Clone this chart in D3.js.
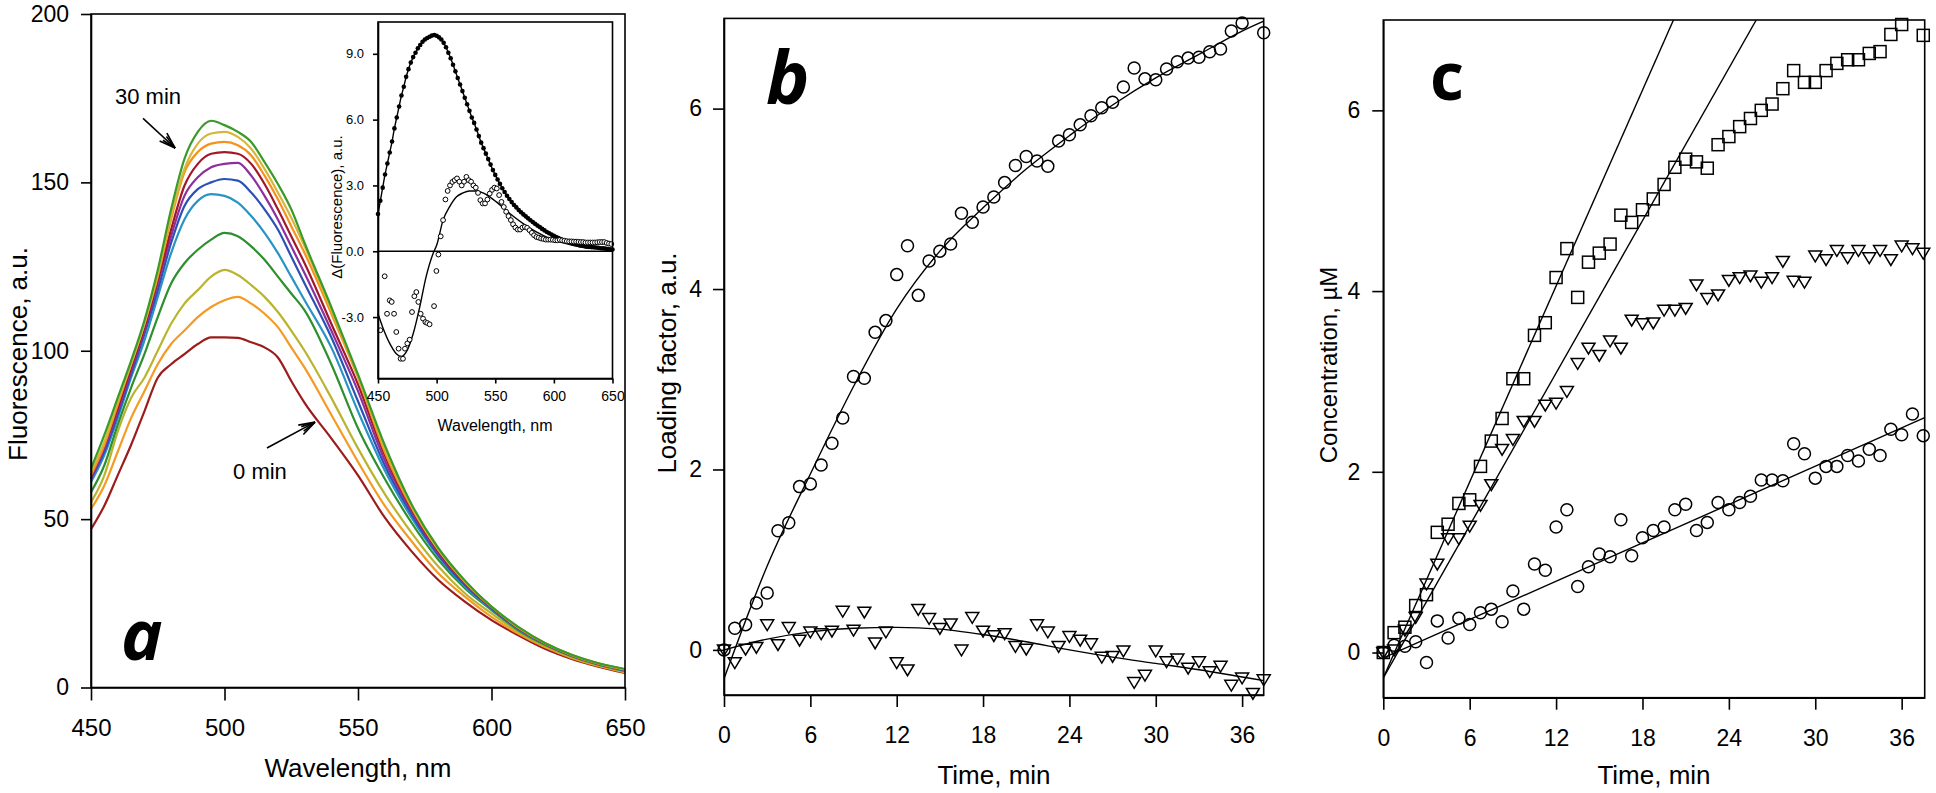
<!DOCTYPE html>
<html>
<head>
<meta charset="utf-8">
<script src="https://cdn.jsdelivr.net/npm/d3@7/dist/d3.min.js"></script>
<style>
html,body{margin:0;padding:0;background:#fff;}
svg{display:block;}
</style>
</head>
<body>
<svg id="chart" width="1936" height="793"></svg>
<script>
// ================= DATA =================
// Panel a: fluorescence spectra (0 .. 30 min)
const wavelengths = [450,455,460,465,470,475,480,485,490,495,500,505,510,515,520,525,530,540,550,560,570,580,590,600,610,620,630,640,650];
const spec0min  = [47,54,63,72,82,92,96,99,102,104,104,103.8,102.5,101,98,91,84.5,74,63,50.5,40.5,32,25.5,20,15.5,11.5,8.5,6.2,4.3];
const spec3min  = [53,60,70,80,88,96,102,106,110,113,115,116,114,111,107,101,95,81,67,54,43.5,34,27,21,16,12,8.8,6.4,4.5];
const spec6min  = [55,63,76,86,92,100,108,114,118,122,124,122.5,119.5,116,111.5,106,100,86,71,57.5,46,36,28,22,16.5,12.3,9,6.6,4.7];
const spec9min  = [58,66,78,89,99,110,120,126,130,133,135,134,131,127,122,117,112,96,77,62,49,38,29.5,23,17,12.7,9.3,6.8,4.9];
const spec12min = [61,69,80,92,103,116,129,139,144.5,146.5,146,144,140,135,129,122,115,101,82,64.5,50.5,39,30,23.3,17.3,12.9,9.4,6.9,5];
const spec15min = [62,70,81,93,105,118,132,143,148,150,151,150.5,147,142,136,128,120,104,85,66,51.5,39.5,30.5,23.5,17.5,13,9.5,7,5.1];
const spec18min = [62,71,82,94,106,120,134,146,151.5,154.5,155.5,155.8,152,146,139,131,123,106,88,67.5,52.5,40,31,23.7,17.6,13,9.5,7,5.2];
const spec21min = [63,72,83,95,107,121,136,149,155.5,158.5,159,158.5,155.5,149.5,142,134,126,108,90,69,53,40.5,31,23.8,17.7,13.1,9.6,7.1,5.3];
const spec24min = [63,72,84,96,108,122,139,153,159,161.5,162,161,158,152,145,137,129,111,92,70,53.5,41,31.3,23.9,17.8,13.1,9.6,7.1,5.3];
const spec27min = [64,73,85,96,108,123,140,154,161.5,164.5,165,163.5,160,154,147,139.5,131,112,92.5,71,54,41,31.5,24,17.9,13.2,9.7,7.2,5.4];
const spec30min = [65,75,86,97,109,124,142,157,165,168.3,167,165,162,156,149.5,142,132,113,93,72,54.5,41.5,31.8,24,18,13.2,9.7,7.2,5.5];
const specColors = ["#9c1c1c","#f59a23","#b8b42e","#2d8f2d","#2894c4","#2a52b5","#8e2f9e","#a0182a","#f5921e","#d7b73a","#3a9a2a"];
const aTicksX = [450,500,550,600,650];
const aTicksY = [0,50,100,150,200];

// Inset: difference spectra
const insetFillNm = [450,452,454,456,458,460,462,464,466,468,470,472,474,476,478,480,482,484,486,488,490,492,494,496,498,500,502,504,506,508,510,512,514,516,518,520,522,524,526,528,530,532,534,536,538,540,542,544,546,548,550,552,554,556,558,560,562,564,566,568,570,572,574,576,578,580,582,584,586,588,590,592,594,596,598,600,602,604,606,608,610,612,614,616,618,620,622,624,626,628,630,632,634,636,638,640,642,644,646,648,650];
const insetFillVal = [1.7,2.3,2.9,3.5,4.0,4.5,5.0,5.6,6.1,6.6,7.1,7.5,7.95,8.3,8.6,8.85,9.05,9.25,9.4,9.55,9.65,9.72,9.78,9.83,9.86,9.82,9.75,9.65,9.5,9.3,9.05,8.8,8.5,8.2,7.9,7.6,7.3,7.0,6.7,6.4,6.1,5.85,5.55,5.25,4.95,4.7,4.45,4.2,3.95,3.7,3.48,3.27,3.07,2.87,2.7,2.53,2.38,2.24,2.11,2.0,1.88,1.78,1.68,1.59,1.5,1.41,1.33,1.25,1.17,1.1,1.02,0.95,0.88,0.82,0.76,0.7,0.65,0.6,0.55,0.5,0.47,0.43,0.4,0.36,0.33,0.3,0.27,0.25,0.23,0.21,0.2,0.19,0.18,0.17,0.16,0.14,0.13,0.12,0.1,0.09,0.08];
const insetOpenNm = [452,455.7,457.7,460,461.7,463.7,465.6,467.6,469.3,471.3,473,475,477,479,481,482.7,484.4,486.4,488.4,490.4,492,494,497.8,499.8,501.5,503.5,505.5,507.5,509.4,511.4,513.4,515.4,517.4,519.4,521.4,523.4,525.4,527.4,529.4,531.4,533.4,535.3,537.3,539.3,541.3,543.3,545.3,547.3,549.3,551.3,553.3,555.3,557.3,559.3,561.3,563.3,565.2,567.2,569.2,571.2,573.2,575.2,577.2,579.2,581.2,583.1,585.1,587.1,589.1,591.1,593.1,595.1,597.1,599.1,601.1,603,605,607,609,611,613,615,617,619,621,623,625,627,629,631,633,635,637,639,641,643,645,647,649];
const insetOpenVal = [-3.6,-1.14,-2.85,-2.24,-2.31,-2.85,-3.68,-4.44,-4.9,-4.9,-4.44,-4.2,-4.03,-2.77,-2.05,-1.86,-2.31,-2.85,-3.07,-3.23,-3.27,-3.33,-2.5,-0.9,-0.15,0.68,1.42,2.36,2.75,3.0,3.16,3.24,3.32,3.17,3.0,3.17,3.39,3.24,3.17,3.0,2.9,2.66,2.33,2.18,2.18,2.36,2.63,2.8,2.9,2.86,2.56,2.25,2.02,1.8,1.6,1.42,1.23,1.08,0.99,0.99,1.08,1.11,1.07,0.96,0.84,0.73,0.65,0.62,0.58,0.56,0.53,0.53,0.53,0.52,0.5,0.5,0.52,0.5,0.48,0.46,0.45,0.45,0.44,0.44,0.43,0.42,0.42,0.4,0.4,0.4,0.4,0.4,0.41,0.42,0.42,0.42,0.38,0.35,0.33];
const insetFitNm = [450,454,460,465.6,469.9,474,480,485.6,491,497,500,505.5,511,517,522.5,528,534,539.6,545.3,551,562.4,573.8,585,596.6,608,622,636,650];
const insetFitVal = [-2.85,-3.46,-4.2,-4.67,-4.8,-4.6,-3.76,-2.54,-1.17,-0.1,0.27,1.42,2.02,2.48,2.66,2.75,2.75,2.66,2.48,2.25,1.72,1.26,0.88,0.58,0.38,0.2,0.12,0.05];
const insetTicksX = [450,500,550,600,650];
const insetTicksY = [-3,0,3,6,9];

// Panels b and c: time courses
const times = [0,0.75,1.5,2.25,3,3.75,4.5,5.25,6,6.75,7.5,8.25,9,9.75,10.5,11.25,12,12.75,13.5,14.25,15,15.75,16.5,17.25,18,18.75,19.5,20.25,21,21.75,22.5,23.25,24,24.75,25.5,26.25,27,27.75,28.5,29.25,30,30.75,31.5,32.25,33,33.75,34.5,35.25,36,36.75,37.5];
const bCircles = [0,0.24,0.28,0.52,0.63,1.32,1.41,1.81,1.84,2.05,2.29,2.57,3.03,3.01,3.52,3.65,4.16,4.48,3.93,4.31,4.42,4.5,4.84,4.74,4.91,5.02,5.18,5.37,5.47,5.42,5.36,5.64,5.71,5.82,5.92,6.01,6.07,6.24,6.45,6.33,6.32,6.44,6.52,6.56,6.57,6.63,6.66,6.86,6.95,null,6.84];
const bTriangles = [0,-0.14,0.01,0.03,0.28,0.06,0.25,0.11,0.2,0.18,0.21,0.43,0.22,0.42,0.08,0.2,-0.14,-0.22,0.45,0.35,0.24,0.29,0.0,0.36,0.21,0.16,0.18,0.04,0.01,0.28,0.2,0.04,0.15,0.11,0.07,-0.08,-0.07,-0.01,-0.36,-0.28,-0.01,-0.13,-0.1,-0.2,-0.13,-0.24,-0.18,-0.39,-0.31,-0.48,-0.33];
const bCircleFitT = [0,3,6,9,12,15,18,21,24,27,30,33,36,37.5];
const bCircleFitV = [-0.32,0.93,1.95,2.92,3.78,4.42,4.9,5.33,5.7,6.04,6.34,6.6,6.86,6.97];
const bTriFitT = [0,3,6,9,12,15,18,21,24,27,30,33,36,37.5];
const bTriFitV = [0.0,0.12,0.2,0.24,0.25,0.23,0.17,0.09,0.0,-0.08,-0.15,-0.22,-0.3,-0.34];

const cSquares = [0,0.22,0.28,0.52,0.64,1.33,1.42,1.65,1.69,2.06,2.34,2.59,3.03,3.03,3.51,3.65,4.15,4.47,3.93,4.32,4.42,4.52,4.84,4.76,4.9,5.02,5.18,5.37,5.46,5.43,5.36,5.62,5.71,5.82,5.91,6.0,6.07,6.24,6.44,6.31,6.31,6.44,6.52,6.56,6.56,6.63,6.65,6.84,6.95,null,6.83];
const cTriangles = [0,0.03,0.25,0.39,0.76,0.98,1.26,1.26,1.4,1.63,1.86,2.25,2.36,2.56,2.56,2.74,2.76,2.89,3.2,3.37,3.29,3.45,3.37,3.68,3.64,3.65,3.79,3.79,3.81,4.07,3.92,3.96,4.12,4.15,4.17,4.1,4.15,4.33,4.11,4.1,4.39,4.35,4.45,4.37,4.45,4.37,4.45,4.35,4.5,4.47,4.42];
const cCircles = [0,0.08,0.07,0.12,-0.11,0.35,0.16,0.38,0.31,0.44,0.48,0.34,0.68,0.48,0.98,0.91,1.39,1.58,0.73,0.95,1.09,1.06,1.47,1.07,1.27,1.35,1.39,1.58,1.64,1.35,1.44,1.66,1.58,1.66,1.73,1.91,1.91,1.9,2.31,2.2,1.93,2.06,2.06,2.18,2.12,2.25,2.18,2.47,2.41,2.64,2.4];
const cFitSquare   = [[0,-0.28],[20.15,7.0]];
const cFitTriangle = [[0,-0.28],[25.9,7.0]];
const cFitCircle   = [[0,-0.06],[37.6,2.6]];
const timeTicks = [0,6,12,18,24,30,36];
const concTicks = [0,2,4,6];

// ================= DRAWING =================
const FONT = '"Liberation Sans", Arial, Helvetica, sans-serif';
const svg = d3.select("#chart");
svg.append("rect").attr("width",1936).attr("height",793).attr("fill","#fff");

function styleAxis(g, fs) {
  g.attr("font-size", null).attr("font-family", null);
  g.select(".domain").attr("stroke", "#000").attr("stroke-width", 1.6);
  g.selectAll(".tick line").attr("stroke", "#000").attr("stroke-width", 1.6);
  g.selectAll(".tick text").attr("fill", "#000")
    .style("font-family", FONT).style("font-size", fs + "px");
}
function box(x, y, lw) {
  const [x0, x1] = x.range(), [y0, y1] = y.range();
  svg.append("rect").attr("x", x0).attr("y", Math.min(y0,y1))
    .attr("width", x1 - x0).attr("height", Math.abs(y0 - y1))
    .attr("fill", "none").attr("stroke", "#000").attr("stroke-width", lw || 1.6);
}
function clipFor(id, x, y) {
  const [x0, x1] = x.range(), [y0, y1] = y.range();
  svg.append("clipPath").attr("id", id).append("rect")
    .attr("x", x0).attr("y", Math.min(y0,y1)).attr("width", x1 - x0).attr("height", Math.abs(y0-y1));
  return "url(#" + id + ")";
}
function text(x, y, s, fs, opts) {
  opts = opts || {};
  const t = svg.append("text").attr("x", x).attr("y", y).text(s)
    .style("font-family", opts.family || FONT).style("font-size", fs + "px")
    .attr("fill", "#000").attr("text-anchor", opts.anchor || "middle");
  if (opts.weight) t.style("font-weight", opts.weight);
  if (opts.style) t.style("font-style", opts.style);
  if (opts.rotate) t.attr("transform", `rotate(${opts.rotate},${x},${y})`);
  return t;
}
function arrow(x1, y1, x2, y2) {
  const g = svg.append("g").attr("stroke", "#000").attr("stroke-width", 1.6).attr("fill","none");
  g.append("line").attr("x1", x1).attr("y1", y1).attr("x2", x2).attr("y2", y2);
  const a = Math.atan2(y2 - y1, x2 - x1), L = 17;
  [0.32, -0.32, 0.18, -0.18].forEach((s, i) => {
    const l = i < 2 ? L : L * 0.85;
    g.append("line").attr("x1", x2).attr("y1", y2)
      .attr("x2", x2 - l * Math.cos(a + s)).attr("y2", y2 - l * Math.sin(a + s));
  });
}

// ---------- Panel a ----------
const xa = d3.scaleLinear().domain([450, 650]).range([91, 625]);
const ya = d3.scaleLinear().domain([0, 200]).range([687.5, 14]);
const lineA = d3.line().x(d => xa(d[0])).y(d => ya(d[1])).curve(d3.curveMonotoneX);
const spectra = [spec0min, spec3min, spec6min, spec9min, spec12min, spec15min, spec18min, spec21min, spec24min, spec27min, spec30min];
spectra.forEach((vals, i) => {
  svg.append("path").datum(wavelengths.map((w, j) => [w, vals[j]]))
    .attr("d", lineA).attr("fill", "none").attr("stroke", specColors[i]).attr("stroke-width", 2.2);
});
svg.append("g").attr("transform", "translate(0,687.5)")
  .call(d3.axisBottom(xa).tickValues(aTicksX).tickSize(13).tickSizeOuter(0).tickPadding(18))
  .call(g => styleAxis(g, 24));
svg.append("g").attr("transform", "translate(91,0)")
  .call(d3.axisLeft(ya).tickValues(aTicksY).tickSize(10).tickSizeOuter(0).tickPadding(12))
  .call(g => styleAxis(g, 23));
box(xa, ya);
text(358, 777, "Wavelength, nm", 26);
text(27, 354, "Fluorescence, a.u.", 26, {rotate: -90});
text(xa(459), ya(173.3), "30 min", 22, {anchor: "start"});
arrow(xa(469.5), ya(169), xa(481.5), ya(160.2));
text(xa(503.2), ya(61.9), "0 min", 22, {anchor: "start"});
arrow(xa(515.9), ya(71.1), xa(533.9), ya(78.8));
text(121, 660, "a", 70, {anchor: "start", weight: "bold", style: "italic", family: '"Open Sans","Noto Sans",sans-serif'});

// ---------- Inset ----------
const xi = d3.scaleLinear().domain([450, 650]).range([378, 612.5]);
const yi = d3.scaleLinear().domain([-5.8, 10.45]).range([378.5, 22]);
svg.append("rect").attr("x", 378).attr("y", 22).attr("width", 234.5).attr("height", 356.5).attr("fill", "#fff");
svg.append("line").attr("x1", xi(450)).attr("x2", xi(650)).attr("y1", yi(0)).attr("y2", yi(0))
  .attr("stroke", "#000").attr("stroke-width", 1.4);
const lineI = d3.line().x(d => xi(d[0])).y(d => yi(d[1])).curve(d3.curveMonotoneX);
const fillPts = insetFillNm.map((w, i) => [w, insetFillVal[i]]);
svg.append("path").datum(fillPts).attr("d", lineI).attr("fill", "none").attr("stroke", "#000").attr("stroke-width", 1.4);
svg.append("path").datum(insetFitNm.map((w, i) => [w, insetFitVal[i]])).attr("d", lineI)
  .attr("fill", "none").attr("stroke", "#000").attr("stroke-width", 1.4);
svg.append("g").selectAll("circle").data(fillPts).join("circle")
  .attr("cx", d => xi(d[0])).attr("cy", d => yi(d[1])).attr("r", 2.3).attr("fill", "#000");
svg.append("g").selectAll("circle").data(insetOpenNm.map((w, i) => [w, insetOpenVal[i]])).join("circle")
  .attr("cx", d => xi(d[0])).attr("cy", d => yi(d[1])).attr("r", 2.4)
  .attr("fill", "#fff").attr("stroke", "#000").attr("stroke-width", 1);
svg.append("g").attr("transform", "translate(0,378.5)")
  .call(d3.axisBottom(xi).tickValues(insetTicksX).tickSize(5).tickSizeOuter(0).tickPadding(8))
  .call(g => styleAxis(g, 14));
svg.append("g").attr("transform", "translate(378,0)")
  .call(d3.axisLeft(yi).tickValues(insetTicksY).tickSize(5).tickSizeOuter(0).tickPadding(9).tickFormat(d => d.toFixed(1)))
  .call(g => styleAxis(g, 13));
box(xi, yi, 1.6);
text(495, 431, "Wavelength, nm", 16);
text(342, 207, "\u0394(Fluorescence), a.u.", 15, {rotate: -90});

// ---------- Panel b ----------
const xb = d3.scaleLinear().domain([0, 37.5]).range([724, 1263.7]);
const yb = d3.scaleLinear().domain([-0.5, 7]).range([695, 18.4]);
const clipB = clipFor("clipB", xb, yb);
const lineB = d3.line().x(d => xb(d[0])).y(d => yb(d[1])).curve(d3.curveMonotoneX);
svg.append("path").datum(bCircleFitT.map((t, i) => [t, bCircleFitV[i]])).attr("d", lineB)
  .attr("clip-path", clipB).attr("fill", "none").attr("stroke", "#000").attr("stroke-width", 1.4);
svg.append("path").datum(bTriFitT.map((t, i) => [t, bTriFitV[i]])).attr("d", lineB)
  .attr("clip-path", clipB).attr("fill", "none").attr("stroke", "#000").attr("stroke-width", 1.4);

const triPath = "M-6.5,-4.8L6.5,-4.8L0,6Z";
function circles(data, x, y) {
  svg.append("g").selectAll("circle").data(times.map((t, i) => [t, data[i]]).filter(d => d[1] != null)).join("circle")
    .attr("cx", d => x(d[0])).attr("cy", d => y(d[1])).attr("r", 6)
    .attr("fill", "none").attr("stroke", "#000").attr("stroke-width", 1.5);
}
function triangles(data, x, y) {
  svg.append("g").selectAll("path").data(times.map((t, i) => [t, data[i]]).filter(d => d[1] != null)).join("path")
    .attr("d", triPath).attr("transform", d => `translate(${x(d[0])},${y(d[1])})`)
    .attr("fill", "none").attr("stroke", "#000").attr("stroke-width", 1.5);
}
function squares(data, x, y) {
  svg.append("g").selectAll("rect").data(times.map((t, i) => [t, data[i]]).filter(d => d[1] != null)).join("rect")
    .attr("x", d => x(d[0]) - 6).attr("y", d => y(d[1]) - 6).attr("width", 12).attr("height", 12)
    .attr("fill", "none").attr("stroke", "#000").attr("stroke-width", 1.5);
}
triangles(bTriangles, xb, yb);
circles(bCircles, xb, yb);
svg.append("g").attr("transform", "translate(0,695)")
  .call(d3.axisBottom(xb).tickValues(timeTicks).tickSize(12).tickSizeOuter(0).tickPadding(20))
  .call(g => styleAxis(g, 23));
svg.append("g").attr("transform", "translate(724,0)")
  .call(d3.axisLeft(yb).tickValues(concTicks).tickSize(11).tickSizeOuter(0).tickPadding(11))
  .call(g => styleAxis(g, 23));
box(xb, yb);
text(994, 784, "Time, min", 26);
text(676, 363, "Loading factor, a.u.", 26, {rotate: -90});
text(766, 104, "b", 73, {anchor: "start", weight: "bold", style: "italic", family: '"Open Sans","Noto Sans",sans-serif'});

// ---------- Panel c ----------
const xc = d3.scaleLinear().domain([0, 37.6]).range([1383.3, 1924.7]);
const yc = d3.scaleLinear().domain([-0.5, 7]).range([697.7, 20]);
const clipC = clipFor("clipC", xc, yc);
const lineC = d3.line().x(d => xc(d[0])).y(d => yc(d[1]));
[cFitSquare, cFitTriangle, cFitCircle].forEach(f => {
  svg.append("path").datum(f).attr("d", lineC).attr("clip-path", clipC)
    .attr("fill", "none").attr("stroke", "#000").attr("stroke-width", 1.4);
});
circles(cCircles, xc, yc);
triangles(cTriangles, xc, yc);
squares(cSquares, xc, yc);
svg.append("g").attr("transform", "translate(0,697.7)")
  .call(d3.axisBottom(xc).tickValues(timeTicks).tickSize(12).tickSizeOuter(0).tickPadding(20))
  .call(g => styleAxis(g, 23));
svg.append("g").attr("transform", "translate(1383.3,0)")
  .call(d3.axisLeft(yc).tickValues(concTicks).tickSize(11).tickSizeOuter(0).tickPadding(12))
  .call(g => styleAxis(g, 23));
box(xc, yc);
text(1654, 784, "Time, min", 26);
text(1337, 365, "Concentration, \u00b5M", 24, {rotate: -90});
text(1430, 100, "c", 66, {anchor: "start", weight: "bold", family: '"Open Sans","Noto Sans",sans-serif'});
</script>
</body>
</html>
